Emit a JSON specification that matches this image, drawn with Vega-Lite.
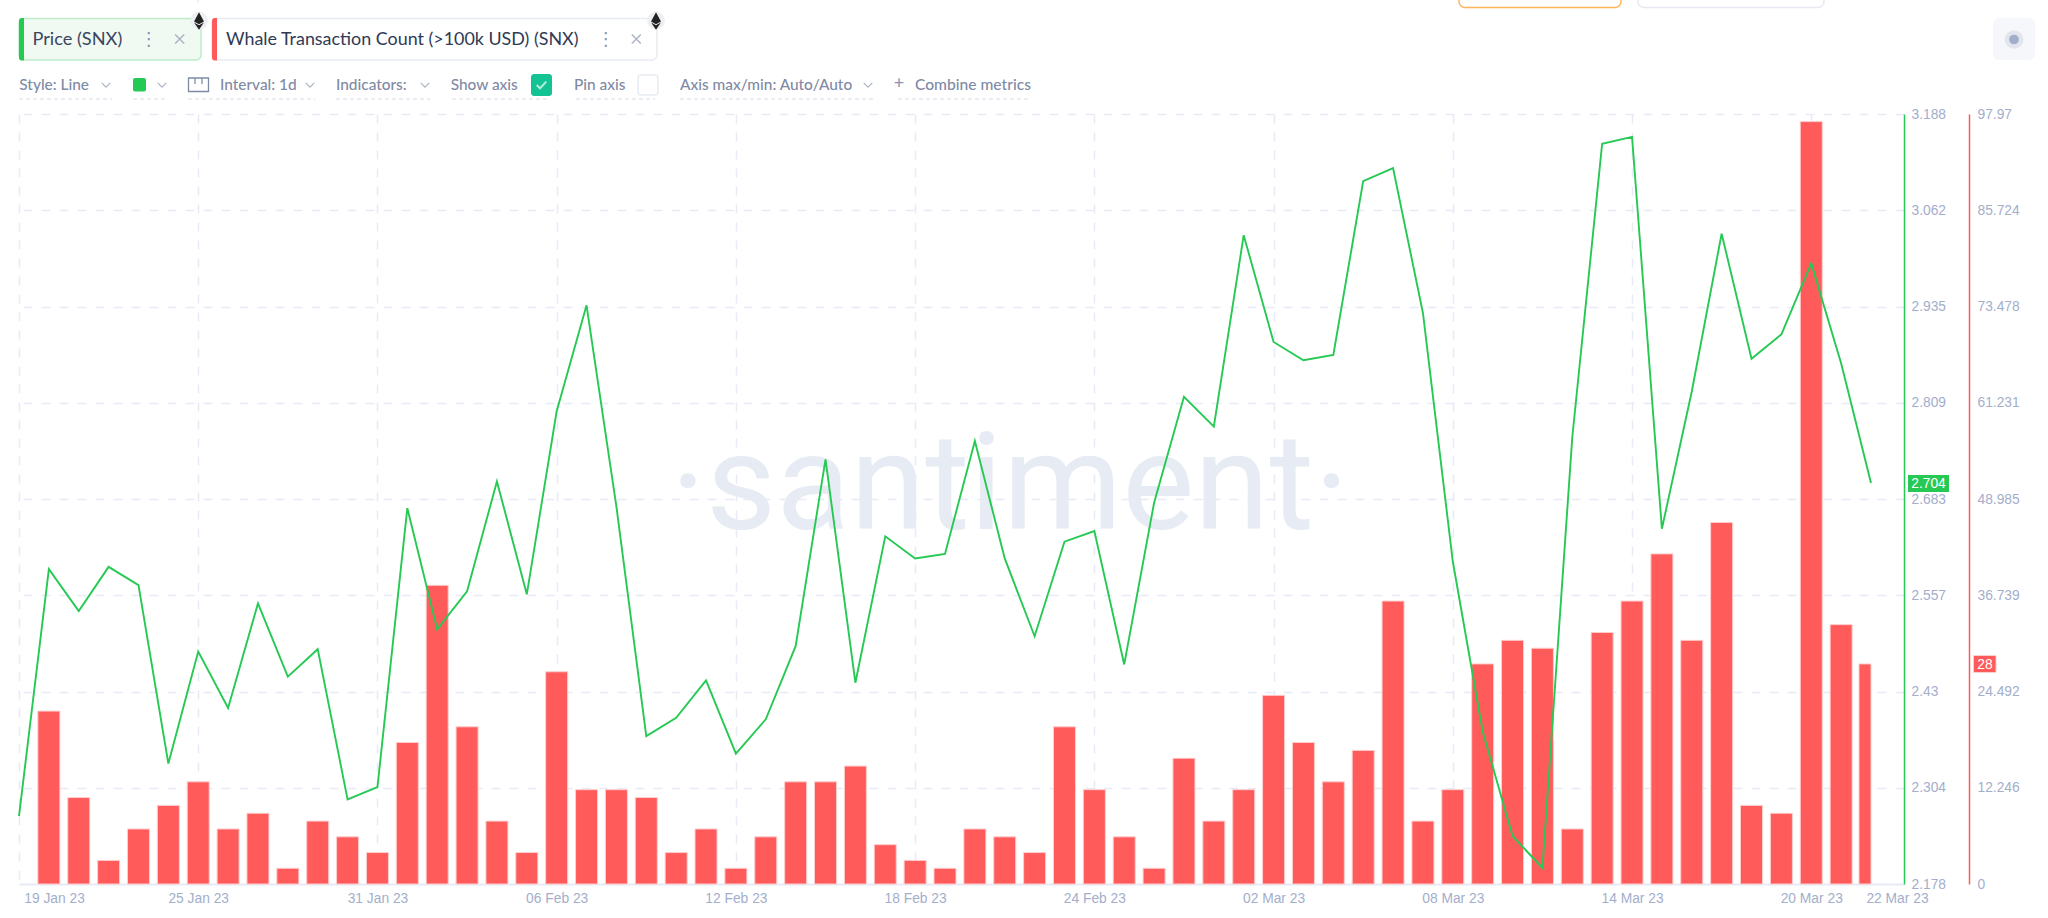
{
  "$schema": "https://vega.github.io/schema/vega-lite/v6.json",
  "width": 1885,
  "height": 770,
  "autosize": {"type": "none"},
  "padding": {"left": 19, "top": 114, "right": 144, "bottom": 34},
  "background": "white",
  "config": {"view": {"stroke": null}},
  "datasets": {
    "daily": [
      {"day": "2023-01-19", "price": 2.267, "whale": null},
      {"day": "2023-01-20", "price": 2.591, "whale": 22},
      {"day": "2023-01-21", "price": 2.536, "whale": 11},
      {"day": "2023-01-22", "price": 2.594, "whale": 3},
      {"day": "2023-01-23", "price": 2.570, "whale": 7},
      {"day": "2023-01-24", "price": 2.336, "whale": 10},
      {"day": "2023-01-25", "price": 2.483, "whale": 13},
      {"day": "2023-01-26", "price": 2.409, "whale": 7},
      {"day": "2023-01-27", "price": 2.546, "whale": 9},
      {"day": "2023-01-28", "price": 2.450, "whale": 2},
      {"day": "2023-01-29", "price": 2.486, "whale": 8},
      {"day": "2023-01-30", "price": 2.289, "whale": 6},
      {"day": "2023-01-31", "price": 2.305, "whale": 4},
      {"day": "2023-02-01", "price": 2.671, "whale": 18},
      {"day": "2023-02-02", "price": 2.512, "whale": 38},
      {"day": "2023-02-03", "price": 2.562, "whale": 20},
      {"day": "2023-02-04", "price": 2.706, "whale": 8},
      {"day": "2023-02-05", "price": 2.558, "whale": 4},
      {"day": "2023-02-06", "price": 2.798, "whale": 27},
      {"day": "2023-02-07", "price": 2.937, "whale": 12},
      {"day": "2023-02-08", "price": 2.673, "whale": 12},
      {"day": "2023-02-09", "price": 2.372, "whale": 11},
      {"day": "2023-02-10", "price": 2.396, "whale": 4},
      {"day": "2023-02-11", "price": 2.445, "whale": 7},
      {"day": "2023-02-12", "price": 2.349, "whale": 2},
      {"day": "2023-02-13", "price": 2.394, "whale": 6},
      {"day": "2023-02-14", "price": 2.490, "whale": 13},
      {"day": "2023-02-15", "price": 2.735, "whale": 13},
      {"day": "2023-02-16", "price": 2.442, "whale": 15},
      {"day": "2023-02-17", "price": 2.634, "whale": 5},
      {"day": "2023-02-18", "price": 2.605, "whale": 3},
      {"day": "2023-02-19", "price": 2.611, "whale": 2},
      {"day": "2023-02-20", "price": 2.759, "whale": 7},
      {"day": "2023-02-21", "price": 2.605, "whale": 6},
      {"day": "2023-02-22", "price": 2.503, "whale": 4},
      {"day": "2023-02-23", "price": 2.627, "whale": 20},
      {"day": "2023-02-24", "price": 2.641, "whale": 12},
      {"day": "2023-02-25", "price": 2.466, "whale": 6},
      {"day": "2023-02-26", "price": 2.678, "whale": 2},
      {"day": "2023-02-27", "price": 2.817, "whale": 16},
      {"day": "2023-02-28", "price": 2.778, "whale": 8},
      {"day": "2023-03-01", "price": 3.029, "whale": 12},
      {"day": "2023-03-02", "price": 2.889, "whale": 24},
      {"day": "2023-03-03", "price": 2.865, "whale": 18},
      {"day": "2023-03-04", "price": 2.872, "whale": 13},
      {"day": "2023-03-05", "price": 3.100, "whale": 17},
      {"day": "2023-03-06", "price": 3.117, "whale": 36},
      {"day": "2023-03-07", "price": 2.927, "whale": 8},
      {"day": "2023-03-08", "price": 2.601, "whale": 12},
      {"day": "2023-03-09", "price": 2.378, "whale": 28},
      {"day": "2023-03-10", "price": 2.241, "whale": 31},
      {"day": "2023-03-11", "price": 2.199, "whale": 30},
      {"day": "2023-03-12", "price": 2.764, "whale": 7},
      {"day": "2023-03-13", "price": 3.149, "whale": 32},
      {"day": "2023-03-14", "price": 3.158, "whale": 36},
      {"day": "2023-03-15", "price": 2.644, "whale": 42},
      {"day": "2023-03-16", "price": 2.824, "whale": 31},
      {"day": "2023-03-17", "price": 3.031, "whale": 46},
      {"day": "2023-03-18", "price": 2.867, "whale": 10},
      {"day": "2023-03-19", "price": 2.899, "whale": 9},
      {"day": "2023-03-20", "price": 2.992, "whale": 97},
      {"day": "2023-03-21", "price": 2.861, "whale": 33},
      {"day": "2023-03-22", "price": 2.704, "whale": 28}
    ]
  },
  "resolve": {"scale": {"x": "independent", "y": "independent"}},
  "layer": [
    {
      "data": {"values": [{"label": "·santiment·"}]},
      "mark": {"type": "text", "font": "Roboto", "fontWeight": 400, "fontSize": 136, "align": "center", "baseline": "alphabetic", "color": "#e7ebf4"},
      "encoding": {
        "text": {"field": "label"},
        "x": {"datum": 1010, "type": "quantitative", "scale": {"domain": [19, 1904]}, "axis": null},
        "y": {"datum": 529, "type": "quantitative", "scale": {"domain": [884, 114]}, "axis": null}
      }
    },
    {
      "data": {"name": "daily"},
      "resolve": {"scale": {"y": "independent"}},
      "encoding": {
        "x": {
          "field": "day",
          "type": "temporal",
          "title": null,
          "scale": {
            "type": "utc",
            "nice": false,
            "padding": 0,
            "domain": [
              {"year": 2023, "month": 1, "date": 19, "utc": true},
              {"year": 2023, "month": 3, "date": 23, "hours": 2, "minutes": 31, "utc": true}
            ]
          },
          "axis": {
            "format": "%d %b %y",
            "values": [
              {"year": 2023, "month": 1, "date": 19, "utc": true},
              {"year": 2023, "month": 1, "date": 25, "utc": true},
              {"year": 2023, "month": 1, "date": 31, "utc": true},
              {"year": 2023, "month": 2, "date": 6, "utc": true},
              {"year": 2023, "month": 2, "date": 12, "utc": true},
              {"year": 2023, "month": 2, "date": 18, "utc": true},
              {"year": 2023, "month": 2, "date": 24, "utc": true},
              {"year": 2023, "month": 3, "date": 2, "utc": true},
              {"year": 2023, "month": 3, "date": 8, "utc": true},
              {"year": 2023, "month": 3, "date": 14, "utc": true},
              {"year": 2023, "month": 3, "date": 20, "utc": true},
              {"year": 2023, "month": 3, "date": 22, "utc": true}
            ],
            "ticks": false,
            "labelFont": "Liberation Sans",
            "labelFontSize": 13.8,
            "labelColor": "#a3aecb",
            "labelPadding": 7,
            "labelOverlap": false,
            "labelFlush": false,
            "labelOffset": {"condition": [{"test": "datum.index === 0", "value": 35}, {"test": "datum.index === 1", "value": 26}], "value": 0},
            "domainColor": "#e8ebf5",
            "domainWidth": 2,
            "grid": true,
            "gridColor": "#e8ebf5",
            "gridWidth": 1.5,
            "gridDash": [9, 9],
            "gridOpacity": {"condition": {"test": "datum.index === 1", "value": 0}, "value": 1}
          }
        }
      },
      "layer": [
        {
          "transform": [{"filter": "time(datum.day) < time('2023-03-22')"}],
          "mark": {"type": "bar", "width": 22, "color": "#ff5b5b", "stroke": "#ffcccc", "strokeWidth": 1},
          "encoding": {
            "y": {
              "field": "whale",
              "type": "quantitative",
              "title": null,
              "scale": {"domain": [0, 97.97], "nice": false, "zero": true},
              "axis": {
                "orient": "right",
                "offset": 65,
                "values": [0, 12.246, 24.492, 36.739, 48.985, 61.231, 73.478, 85.724, 97.97],
                "format": ".3~f",
                "grid": false,
                "ticks": false,
                "labelFont": "Liberation Sans",
                "labelFontSize": 13.8,
                "labelColor": "#a3aecb",
                "labelPadding": 8,
                "domainColor": "#ff5b5b",
                "domainWidth": 1.5
              }
            }
          }
        },
        {
          "transform": [{"filter": "time(datum.day) >= time('2023-03-22')"}],
          "mark": {"type": "bar", "width": 12, "xOffset": -6, "color": "#ff5b5b", "stroke": "#ffcccc", "strokeWidth": 1},
          "encoding": {
            "y": {"field": "whale", "type": "quantitative", "title": null, "scale": {"domain": [0, 97.97], "nice": false, "zero": true}, "axis": null}
          }
        },
        {
          "mark": {"type": "line", "color": "#26c953", "strokeWidth": 1.9, "interpolate": "linear"},
          "encoding": {
            "y": {
              "field": "price",
              "type": "quantitative",
              "title": null,
              "scale": {"domain": [2.178, 3.188], "nice": false, "zero": false},
              "axis": {
                "orient": "right",
                "values": [2.178, 2.304, 2.43, 2.557, 2.683, 2.809, 2.935, 3.062, 3.188],
                "format": ".3~f",
                "ticks": false,
                "labelFont": "Liberation Sans",
                "labelFontSize": 13.8,
                "labelColor": "#a3aecb",
                "labelPadding": 7,
                "domainColor": "#26c953",
                "domainWidth": 1.5,
                "grid": true,
                "gridColor": "#e8ebf5",
                "gridWidth": 1.5,
                "gridDash": [9, 9]
              }
            }
          }
        }
      ]
    },
    {
      "data": {"values": [{"one": 1}]},
      "layer": [
        {"mark": {"type": "rect", "cornerRadius": 6, "fill": "white", "stroke": "#ffb45c", "strokeWidth": 1.5}, "encoding": {"x": {"datum": 1459, "type": "quantitative", "scale": {"domain": [19, 1904]}, "axis": null}, "x2": {"datum": 1621}, "y": {"datum": -20, "type": "quantitative", "scale": {"domain": [884, 114]}, "axis": null}, "y2": {"datum": 7.5}}},
        {"mark": {"type": "rect", "cornerRadius": 6, "fill": "white", "stroke": "#e8e8f2", "strokeWidth": 1.5}, "encoding": {"x": {"datum": 1638, "type": "quantitative", "scale": {"domain": [19, 1904]}, "axis": null}, "x2": {"datum": 1824}, "y": {"datum": -20, "type": "quantitative", "scale": {"domain": [884, 114]}, "axis": null}, "y2": {"datum": 7.5}}},
        {"mark": {"type": "rule", "color": "#e8ebf5", "strokeWidth": 1.5}, "encoding": {"x": {"datum": 198, "type": "quantitative", "scale": {"domain": [19, 1904]}, "axis": null}, "y": {"datum": 0, "type": "quantitative", "scale": {"domain": [884, 114]}, "axis": null}, "y2": {"datum": 3}}},

        {"mark": {"type": "rect", "cornerRadius": 5, "fill": "#f0faf3", "stroke": "#bdeccb", "strokeWidth": 1.5}, "encoding": {"x": {"datum": 19, "type": "quantitative", "scale": {"domain": [19, 1904]}, "axis": null}, "x2": {"datum": 201}, "y": {"datum": 18.5, "type": "quantitative", "scale": {"domain": [884, 114]}, "axis": null}, "y2": {"datum": 60}}},
        {"mark": {"type": "rect", "cornerRadiusTopLeft": 5, "cornerRadiusBottomLeft": 5, "fill": "#26c953"}, "encoding": {"x": {"datum": 19, "type": "quantitative", "scale": {"domain": [19, 1904]}, "axis": null}, "x2": {"datum": 24}, "y": {"datum": 18, "type": "quantitative", "scale": {"domain": [884, 114]}, "axis": null}, "y2": {"datum": 60.5}}},
        {"mark": {"type": "text", "text": "Price (SNX)", "font": "Lato", "fontSize": 18.2, "align": "left", "baseline": "middle", "color": "#3a4560"}, "encoding": {"x": {"datum": 32.5, "type": "quantitative", "scale": {"domain": [19, 1904]}, "axis": null}, "y": {"datum": 39.5, "type": "quantitative", "scale": {"domain": [884, 114]}, "axis": null}}},
        {"mark": {"type": "text", "text": "⋮", "font": "DejaVu Sans", "fontSize": 18, "align": "center", "baseline": "middle", "color": "#8a95ad"}, "encoding": {"x": {"datum": 148.7, "type": "quantitative", "scale": {"domain": [19, 1904]}, "axis": null}, "y": {"datum": 39.5, "type": "quantitative", "scale": {"domain": [884, 114]}, "axis": null}}},
        {"mark": {"type": "point", "shape": "M-1,-1L1,1M-1,1L1,-1", "size": 81, "filled": false, "stroke": "#8a95ad", "strokeWidth": 1.4}, "encoding": {"x": {"datum": 179.7, "type": "quantitative", "scale": {"domain": [19, 1904]}, "axis": null}, "y": {"datum": 39, "type": "quantitative", "scale": {"domain": [884, 114]}, "axis": null}}},
        {"mark": {"type": "point", "shape": "circle", "size": 314, "filled": true, "fill": "#eeeff2", "opacity": 1}, "encoding": {"x": {"datum": 199, "type": "quantitative", "scale": {"domain": [19, 1904]}, "axis": null}, "y": {"datum": 20.7, "type": "quantitative", "scale": {"domain": [884, 114]}, "axis": null}}},
        {"mark": {"type": "point", "shape": "M0,-1L0.57,0.05L0,0.38L-0.57,0.05ZM0,0.5L0.57,0.17L0,1L-0.57,0.17Z", "size": 302, "filled": true, "fill": "#222222", "opacity": 1}, "encoding": {"x": {"datum": 199, "type": "quantitative", "scale": {"domain": [19, 1904]}, "axis": null}, "y": {"datum": 21, "type": "quantitative", "scale": {"domain": [884, 114]}, "axis": null}}},

        {"mark": {"type": "rect", "cornerRadius": 5, "fill": "white", "stroke": "#e8ebf2", "strokeWidth": 1.5}, "encoding": {"x": {"datum": 212, "type": "quantitative", "scale": {"domain": [19, 1904]}, "axis": null}, "x2": {"datum": 657}, "y": {"datum": 18.5, "type": "quantitative", "scale": {"domain": [884, 114]}, "axis": null}, "y2": {"datum": 60}}},
        {"mark": {"type": "rect", "cornerRadiusTopLeft": 5, "cornerRadiusBottomLeft": 5, "fill": "#ff5b5b"}, "encoding": {"x": {"datum": 212, "type": "quantitative", "scale": {"domain": [19, 1904]}, "axis": null}, "x2": {"datum": 217}, "y": {"datum": 18, "type": "quantitative", "scale": {"domain": [884, 114]}, "axis": null}, "y2": {"datum": 60.5}}},
        {"mark": {"type": "text", "text": "Whale Transaction Count (>100k USD) (SNX)", "font": "Lato", "fontSize": 17.9, "align": "left", "baseline": "middle", "color": "#2f3a55"}, "encoding": {"x": {"datum": 226, "type": "quantitative", "scale": {"domain": [19, 1904]}, "axis": null}, "y": {"datum": 39.5, "type": "quantitative", "scale": {"domain": [884, 114]}, "axis": null}}},
        {"mark": {"type": "text", "text": "⋮", "font": "DejaVu Sans", "fontSize": 18, "align": "center", "baseline": "middle", "color": "#8a95ad"}, "encoding": {"x": {"datum": 605.7, "type": "quantitative", "scale": {"domain": [19, 1904]}, "axis": null}, "y": {"datum": 39.5, "type": "quantitative", "scale": {"domain": [884, 114]}, "axis": null}}},
        {"mark": {"type": "point", "shape": "M-1,-1L1,1M-1,1L1,-1", "size": 81, "filled": false, "stroke": "#8a95ad", "strokeWidth": 1.4}, "encoding": {"x": {"datum": 636.3, "type": "quantitative", "scale": {"domain": [19, 1904]}, "axis": null}, "y": {"datum": 39, "type": "quantitative", "scale": {"domain": [884, 114]}, "axis": null}}},
        {"mark": {"type": "point", "shape": "circle", "size": 314, "filled": true, "fill": "#eeeff2", "opacity": 1}, "encoding": {"x": {"datum": 656, "type": "quantitative", "scale": {"domain": [19, 1904]}, "axis": null}, "y": {"datum": 20.7, "type": "quantitative", "scale": {"domain": [884, 114]}, "axis": null}}},
        {"mark": {"type": "point", "shape": "M0,-1L0.57,0.05L0,0.38L-0.57,0.05ZM0,0.5L0.57,0.17L0,1L-0.57,0.17Z", "size": 302, "filled": true, "fill": "#222222", "opacity": 1}, "encoding": {"x": {"datum": 656, "type": "quantitative", "scale": {"domain": [19, 1904]}, "axis": null}, "y": {"datum": 21, "type": "quantitative", "scale": {"domain": [884, 114]}, "axis": null}}},

        {"mark": {"type": "rect", "cornerRadius": 6, "fill": "#f5f7fb"}, "encoding": {"x": {"datum": 1993, "type": "quantitative", "scale": {"domain": [19, 1904]}, "axis": null}, "x2": {"datum": 2035}, "y": {"datum": 18, "type": "quantitative", "scale": {"domain": [884, 114]}, "axis": null}, "y2": {"datum": 60}}},
        {"mark": {"type": "point", "shape": "circle", "size": 346, "filled": true, "fill": "#e2e5ee", "opacity": 1}, "encoding": {"x": {"datum": 2014, "type": "quantitative", "scale": {"domain": [19, 1904]}, "axis": null}, "y": {"datum": 39.5, "type": "quantitative", "scale": {"domain": [884, 114]}, "axis": null}}},
        {"mark": {"type": "point", "shape": "circle", "size": 95, "filled": true, "fill": "#a3afca", "opacity": 1}, "encoding": {"x": {"datum": 2014, "type": "quantitative", "scale": {"domain": [19, 1904]}, "axis": null}, "y": {"datum": 39.5, "type": "quantitative", "scale": {"domain": [884, 114]}, "axis": null}}},

        {"mark": {"type": "text", "text": "Style: Line", "font": "Lato", "fontSize": 15.4, "fontWeight": 500, "align": "left", "baseline": "middle", "color": "#7f8aa5"}, "encoding": {"x": {"datum": 19.3, "type": "quantitative", "scale": {"domain": [19, 1904]}, "axis": null}, "y": {"datum": 84.5, "type": "quantitative", "scale": {"domain": [884, 114]}, "axis": null}}},
        {"mark": {"type": "point", "shape": "M-1,-0.5L0,0.5L1,-0.5", "size": 74, "filled": false, "stroke": "#8a95ad", "strokeWidth": 1.2}, "encoding": {"x": {"datum": 106, "type": "quantitative", "scale": {"domain": [19, 1904]}, "axis": null}, "y": {"datum": 85, "type": "quantitative", "scale": {"domain": [884, 114]}, "axis": null}}},
        {"mark": {"type": "rule", "color": "#d5dae6", "strokeDash": [4, 3]}, "encoding": {"x": {"datum": 19, "type": "quantitative", "scale": {"domain": [19, 1904]}, "axis": null}, "x2": {"datum": 112}, "y": {"datum": 99, "type": "quantitative", "scale": {"domain": [884, 114]}, "axis": null}}},

        {"mark": {"type": "rect", "cornerRadius": 2, "fill": "#26c953"}, "encoding": {"x": {"datum": 133, "type": "quantitative", "scale": {"domain": [19, 1904]}, "axis": null}, "x2": {"datum": 146}, "y": {"datum": 78, "type": "quantitative", "scale": {"domain": [884, 114]}, "axis": null}, "y2": {"datum": 91.5}}},
        {"mark": {"type": "point", "shape": "M-1,-0.5L0,0.5L1,-0.5", "size": 74, "filled": false, "stroke": "#8a95ad", "strokeWidth": 1.2}, "encoding": {"x": {"datum": 162, "type": "quantitative", "scale": {"domain": [19, 1904]}, "axis": null}, "y": {"datum": 85, "type": "quantitative", "scale": {"domain": [884, 114]}, "axis": null}}},
        {"mark": {"type": "rule", "color": "#d5dae6", "strokeDash": [4, 3]}, "encoding": {"x": {"datum": 133, "type": "quantitative", "scale": {"domain": [19, 1904]}, "axis": null}, "x2": {"datum": 167}, "y": {"datum": 99, "type": "quantitative", "scale": {"domain": [884, 114]}, "axis": null}}},

        {"mark": {"type": "rect", "fill": "white", "stroke": "#7f8aa5", "strokeWidth": 1.3}, "encoding": {"x": {"datum": 188.5, "type": "quantitative", "scale": {"domain": [19, 1904]}, "axis": null}, "x2": {"datum": 208.5}, "y": {"datum": 78, "type": "quantitative", "scale": {"domain": [884, 114]}, "axis": null}, "y2": {"datum": 91.5}}},
        {"mark": {"type": "rule", "color": "#7f8aa5", "strokeWidth": 1.3}, "encoding": {"x": {"datum": 195, "type": "quantitative", "scale": {"domain": [19, 1904]}, "axis": null}, "y": {"datum": 78, "type": "quantitative", "scale": {"domain": [884, 114]}, "axis": null}, "y2": {"datum": 84}}},
        {"mark": {"type": "rule", "color": "#7f8aa5", "strokeWidth": 1.3}, "encoding": {"x": {"datum": 202, "type": "quantitative", "scale": {"domain": [19, 1904]}, "axis": null}, "y": {"datum": 78, "type": "quantitative", "scale": {"domain": [884, 114]}, "axis": null}, "y2": {"datum": 84}}},
        {"mark": {"type": "text", "text": "Interval: 1d", "font": "Lato", "fontSize": 15.4, "fontWeight": 500, "align": "left", "baseline": "middle", "color": "#7f8aa5"}, "encoding": {"x": {"datum": 220, "type": "quantitative", "scale": {"domain": [19, 1904]}, "axis": null}, "y": {"datum": 84.5, "type": "quantitative", "scale": {"domain": [884, 114]}, "axis": null}}},
        {"mark": {"type": "point", "shape": "M-1,-0.5L0,0.5L1,-0.5", "size": 74, "filled": false, "stroke": "#8a95ad", "strokeWidth": 1.2}, "encoding": {"x": {"datum": 310, "type": "quantitative", "scale": {"domain": [19, 1904]}, "axis": null}, "y": {"datum": 85, "type": "quantitative", "scale": {"domain": [884, 114]}, "axis": null}}},
        {"mark": {"type": "rule", "color": "#d5dae6", "strokeDash": [4, 3]}, "encoding": {"x": {"datum": 188, "type": "quantitative", "scale": {"domain": [19, 1904]}, "axis": null}, "x2": {"datum": 315}, "y": {"datum": 99, "type": "quantitative", "scale": {"domain": [884, 114]}, "axis": null}}},

        {"mark": {"type": "text", "text": "Indicators:", "font": "Lato", "fontSize": 15.4, "fontWeight": 500, "align": "left", "baseline": "middle", "color": "#7f8aa5"}, "encoding": {"x": {"datum": 336, "type": "quantitative", "scale": {"domain": [19, 1904]}, "axis": null}, "y": {"datum": 84.5, "type": "quantitative", "scale": {"domain": [884, 114]}, "axis": null}}},
        {"mark": {"type": "point", "shape": "M-1,-0.5L0,0.5L1,-0.5", "size": 74, "filled": false, "stroke": "#8a95ad", "strokeWidth": 1.2}, "encoding": {"x": {"datum": 425, "type": "quantitative", "scale": {"domain": [19, 1904]}, "axis": null}, "y": {"datum": 85, "type": "quantitative", "scale": {"domain": [884, 114]}, "axis": null}}},
        {"mark": {"type": "rule", "color": "#d5dae6", "strokeDash": [4, 3]}, "encoding": {"x": {"datum": 336, "type": "quantitative", "scale": {"domain": [19, 1904]}, "axis": null}, "x2": {"datum": 430}, "y": {"datum": 99, "type": "quantitative", "scale": {"domain": [884, 114]}, "axis": null}}},

        {"mark": {"type": "text", "text": "Show axis", "font": "Lato", "fontSize": 15.4, "fontWeight": 500, "align": "left", "baseline": "middle", "color": "#7f8aa5"}, "encoding": {"x": {"datum": 450.7, "type": "quantitative", "scale": {"domain": [19, 1904]}, "axis": null}, "y": {"datum": 84.5, "type": "quantitative", "scale": {"domain": [884, 114]}, "axis": null}}},
        {"mark": {"type": "rule", "color": "#d5dae6", "strokeDash": [4, 3]}, "encoding": {"x": {"datum": 452, "type": "quantitative", "scale": {"domain": [19, 1904]}, "axis": null}, "x2": {"datum": 547}, "y": {"datum": 99, "type": "quantitative", "scale": {"domain": [884, 114]}, "axis": null}}},
        {"mark": {"type": "rect", "cornerRadius": 3, "fill": "#14c393"}, "encoding": {"x": {"datum": 531, "type": "quantitative", "scale": {"domain": [19, 1904]}, "axis": null}, "x2": {"datum": 552}, "y": {"datum": 74, "type": "quantitative", "scale": {"domain": [884, 114]}, "axis": null}, "y2": {"datum": 96}}},
        {"mark": {"type": "point", "shape": "M-1,0L-0.3,0.7L1,-0.7", "size": 90, "filled": false, "stroke": "white", "strokeWidth": 2}, "encoding": {"x": {"datum": 541.5, "type": "quantitative", "scale": {"domain": [19, 1904]}, "axis": null}, "y": {"datum": 85, "type": "quantitative", "scale": {"domain": [884, 114]}, "axis": null}}},

        {"mark": {"type": "text", "text": "Pin axis", "font": "Lato", "fontSize": 15.4, "fontWeight": 500, "align": "left", "baseline": "middle", "color": "#7f8aa5"}, "encoding": {"x": {"datum": 574, "type": "quantitative", "scale": {"domain": [19, 1904]}, "axis": null}, "y": {"datum": 84.5, "type": "quantitative", "scale": {"domain": [884, 114]}, "axis": null}}},
        {"mark": {"type": "rule", "color": "#d5dae6", "strokeDash": [4, 3]}, "encoding": {"x": {"datum": 576, "type": "quantitative", "scale": {"domain": [19, 1904]}, "axis": null}, "x2": {"datum": 655}, "y": {"datum": 99, "type": "quantitative", "scale": {"domain": [884, 114]}, "axis": null}}},
        {"mark": {"type": "rect", "cornerRadius": 3, "fill": "white", "stroke": "#e8ebf2", "strokeWidth": 1.5}, "encoding": {"x": {"datum": 638, "type": "quantitative", "scale": {"domain": [19, 1904]}, "axis": null}, "x2": {"datum": 658}, "y": {"datum": 75, "type": "quantitative", "scale": {"domain": [884, 114]}, "axis": null}, "y2": {"datum": 95}}},

        {"mark": {"type": "text", "text": "Axis max/min: Auto/Auto", "font": "Lato", "fontSize": 15.4, "fontWeight": 500, "align": "left", "baseline": "middle", "color": "#7f8aa5"}, "encoding": {"x": {"datum": 680, "type": "quantitative", "scale": {"domain": [19, 1904]}, "axis": null}, "y": {"datum": 84.5, "type": "quantitative", "scale": {"domain": [884, 114]}, "axis": null}}},
        {"mark": {"type": "point", "shape": "M-1,-0.5L0,0.5L1,-0.5", "size": 74, "filled": false, "stroke": "#8a95ad", "strokeWidth": 1.2}, "encoding": {"x": {"datum": 868, "type": "quantitative", "scale": {"domain": [19, 1904]}, "axis": null}, "y": {"datum": 85, "type": "quantitative", "scale": {"domain": [884, 114]}, "axis": null}}},
        {"mark": {"type": "rule", "color": "#d5dae6", "strokeDash": [4, 3]}, "encoding": {"x": {"datum": 680, "type": "quantitative", "scale": {"domain": [19, 1904]}, "axis": null}, "x2": {"datum": 873}, "y": {"datum": 99, "type": "quantitative", "scale": {"domain": [884, 114]}, "axis": null}}},

        {"mark": {"type": "text", "text": "+", "font": "Lato", "fontSize": 18, "align": "center", "baseline": "middle", "color": "#8a95ad"}, "encoding": {"x": {"datum": 899, "type": "quantitative", "scale": {"domain": [19, 1904]}, "axis": null}, "y": {"datum": 84, "type": "quantitative", "scale": {"domain": [884, 114]}, "axis": null}}},
        {"mark": {"type": "text", "text": "Combine metrics", "font": "Lato", "fontSize": 15.6, "fontWeight": 500, "align": "left", "baseline": "middle", "color": "#7f8aa5"}, "encoding": {"x": {"datum": 915, "type": "quantitative", "scale": {"domain": [19, 1904]}, "axis": null}, "y": {"datum": 84.5, "type": "quantitative", "scale": {"domain": [884, 114]}, "axis": null}}},
        {"mark": {"type": "rule", "color": "#d5dae6", "strokeDash": [4, 3]}, "encoding": {"x": {"datum": 898, "type": "quantitative", "scale": {"domain": [19, 1904]}, "axis": null}, "x2": {"datum": 1030}, "y": {"datum": 99, "type": "quantitative", "scale": {"domain": [884, 114]}, "axis": null}}},

        {"mark": {"type": "rect", "fill": "#26c953"}, "encoding": {"x": {"datum": 1908, "type": "quantitative", "scale": {"domain": [19, 1904]}, "axis": null}, "x2": {"datum": 1949}, "y": {"datum": 475, "type": "quantitative", "scale": {"domain": [884, 114]}, "axis": null}, "y2": {"datum": 492}}},
        {"mark": {"type": "text", "text": "2.704", "font": "Liberation Sans", "fontSize": 13.8, "align": "center", "baseline": "middle", "color": "white"}, "encoding": {"x": {"datum": 1928.5, "type": "quantitative", "scale": {"domain": [19, 1904]}, "axis": null}, "y": {"datum": 484, "type": "quantitative", "scale": {"domain": [884, 114]}, "axis": null}}},
        {"mark": {"type": "rect", "fill": "#ff5b5b", "stroke": "#ffcccc", "strokeWidth": 1}, "encoding": {"x": {"datum": 1973.5, "type": "quantitative", "scale": {"domain": [19, 1904]}, "axis": null}, "x2": {"datum": 1996}, "y": {"datum": 655.5, "type": "quantitative", "scale": {"domain": [884, 114]}, "axis": null}, "y2": {"datum": 672.5}}},
        {"mark": {"type": "text", "text": "28", "font": "Liberation Sans", "fontSize": 13.8, "align": "center", "baseline": "middle", "color": "white"}, "encoding": {"x": {"datum": 1985, "type": "quantitative", "scale": {"domain": [19, 1904]}, "axis": null}, "y": {"datum": 664.5, "type": "quantitative", "scale": {"domain": [884, 114]}, "axis": null}}}
      ]
    }
  ]
}
